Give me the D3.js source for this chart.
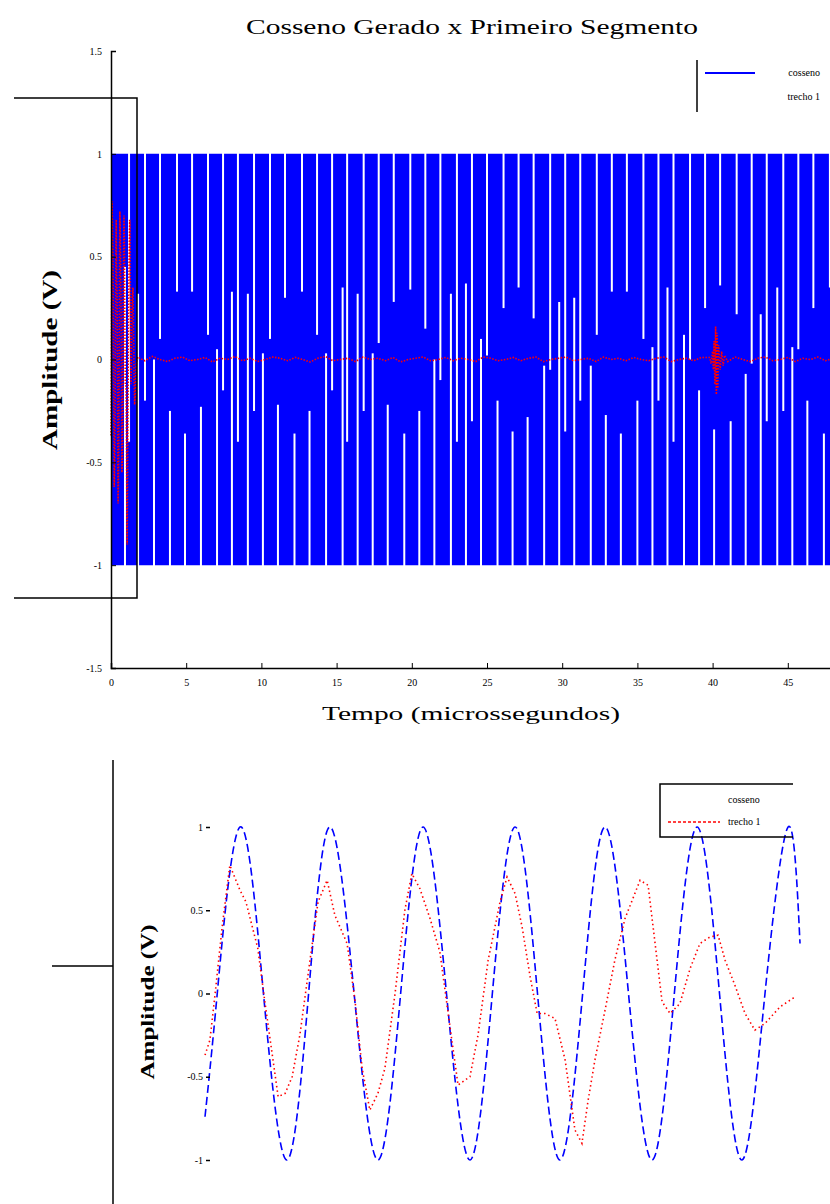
<!DOCTYPE html>
<html>
<head>
<meta charset="utf-8">
<script src="https://cdn.jsdelivr.net/npm/d3@7/dist/d3.min.js"></script>
<style>
  body { margin: 0; background: #fff; }
  svg { display: block; font-family: "Liberation Serif", "DejaVu Serif", serif; }
</style>
</head>
<body>
<svg id="fig" width="830" height="1204"></svg>
<script>
// ---- DATA ----
const titleText = "Cosseno Gerado x Primeiro Segmento";
const xLabel = "Tempo (microssegundos)";
const yLabel = "Amplitude (V)";
const legendLabels = ["cosseno", "trecho 1"];

const xTicksTop = [0, 5, 10, 15, 20, 25, 30, 35, 40, 45];
const yTicksTop = [-1.5, -1, -0.5, 0, 0.5, 1, 1.5];
const yTicksZoom = [-1, -0.5, 0, 0.5, 1];

// generated cosine, top plot: envelope of the dense trace (µs, V)
const cosEnvT = [0, 50];
const cosEnvHi = [1, 1];
const cosEnvLo = [-1, -1];

// white gaps left in the dense trace: from the top (µs, V where the gap stops)
const topGapT   = [1.2, 2.26, 3.26, 4.39, 5.39, 6.45, 7.45, 8.44, 9.51, 10.57, 11.57, 12.7, 13.7, 14.7,
                   15.7, 16.8, 17.8, 18.8, 19.9, 20.9, 21.9, 23.0, 24.0, 25.0, 26.1, 27.1, 28.1, 29.2,
                   30.2, 31.2, 32.3, 33.3, 34.3, 35.4, 36.4, 37.4, 38.5, 39.5, 40.5, 41.6, 42.6, 43.6,
                   44.7, 45.7, 46.7, 47.8];
const topGapEnd = [-0.4, -0.2, 0.1, 0.33, 0.33, 0.12, -0.15, -0.4, -0.25, 0.1, 0.3, 0.33, 0.12, -0.15,
                   -0.4, -0.25, 0.08, 0.28, 0.34, 0.15, -0.1, -0.4, -0.3, 0.02, 0.25, 0.35, 0.2, -0.05,
                   -0.35, -0.2, 0.12, 0.33, 0.33, 0.1, -0.2, -0.4, 0.0, 0.25, 0.36, 0.22, -0.02, -0.3,
                   -0.25, 0.05, 0.25, 0.35];
// ... and from the bottom
const botGapT   = [0.93, 1.8, 2.86, 3.92, 4.92, 5.98, 7.05, 8.04, 9.1, 10.1, 11.1, 12.2, 13.2, 14.3,
                   15.4, 16.4, 17.4, 18.4, 19.5, 20.5, 21.5, 22.6, 23.6, 24.6, 25.7, 26.7, 27.7, 28.8,
                   29.8, 30.8, 31.9, 32.9, 33.9, 35.0, 36.0, 37.0, 38.1, 39.1, 40.1, 41.2, 42.2, 43.2,
                   44.3, 45.3, 46.3, 47.4];
const botGapEnd = [0.45, 0.32, 0.0, -0.25, -0.36, -0.23, 0.05, 0.33, 0.32, 0.03, -0.22, -0.36, -0.25, 0.03,
                   0.35, 0.32, 0.03, -0.22, -0.36, -0.25, 0.0, 0.32, 0.37, 0.1, -0.2, -0.35, -0.28, -0.03,
                   0.28, 0.3, -0.03, -0.27, -0.36, -0.2, 0.06, 0.35, 0.12, -0.15, -0.34, -0.3, -0.07, 0.22,
                   0.35, 0.06, -0.2, -0.36];

// zoom plot: cosine key points (ns, V)
const cosZoomT = [0, 35, 100, 167, 234, 296, 357, 426, 494, 559, 623, 690, 757, 821, 886, 950,
                  1014, 1079, 1143, 1210, 1277, 1341, 1406, 1470, 1534, 1600, 1666, 1700];
const cosZoomV = [-0.74, 0, 1, 0, -1, 0, 1, 0, -1, 0, 1, 0, -1, 0, 1, 0,
                  -1, 0, 1, 0, -1, 0, 1, 0, -1, 0, 1, 0.3];

// segment 1 (trecho 1), first 1.7 µs (ns, V)
const trechoZoomT = [0, 14, 29, 49, 71, 100, 117, 151, 171, 191, 209, 229, 249, 271, 300, 323, 349, 371,
                     406, 429, 449, 471, 494, 514, 543, 571, 591, 614, 643, 671, 700, 723, 743, 757, 780,
                     809, 843, 863, 886, 906, 929, 949, 971, 1000, 1029, 1057, 1077, 1094, 1114, 1143,
                     1171, 1200, 1243, 1266, 1286, 1306, 1329, 1357, 1386, 1414, 1443, 1466, 1486, 1514,
                     1543, 1571, 1600, 1643, 1686];
const trechoZoomV = [-0.37, -0.28, 0.0, 0.4, 0.77, 0.62, 0.55, 0.27, -0.05, -0.35, -0.62, -0.6, -0.5, -0.25,
                     0.2, 0.55, 0.68, 0.47, 0.3, -0.05, -0.45, -0.7, -0.6, -0.45, 0.0, 0.5, 0.72, 0.63,
                     0.45, 0.25, -0.2, -0.55, -0.52, -0.5, -0.25, 0.2, 0.55, 0.7, 0.6, 0.4, 0.1, -0.12,
                     -0.12, -0.15, -0.4, -0.82, -0.9, -0.65, -0.4, -0.1, 0.2, 0.45, 0.68, 0.65, 0.3,
                     -0.05, -0.12, -0.06, 0.15, 0.3, 0.34, 0.35, 0.2, 0.05, -0.12, -0.22, -0.18, -0.08, -0.02];

// trecho 1 after the first burst, sampled every 0.5 µs from 1.75 µs (V)
const trechoTailStart = 1.75;
const trechoTailStep = 0.5;
const trechoTailV = [0.012, -0.006, 0.015, 0.0, -0.01, 0.006, 0.012, -0.006, 0.0, 0.01, -0.012, 0.006, 0.0, 0.015,
                     -0.006, 0.006, -0.01, 0.0, 0.012, 0.006, -0.006, 0.01, 0.0, -0.012, 0.006, 0.015, -0.006, 0.0,
                     0.006, -0.01, 0.012, 0.0, 0.006, -0.006, 0.01, -0.012, 0.0, 0.006, 0.012, -0.006, 0.0, 0.01,
                     -0.006, 0.006, 0.0, -0.01, 0.012, 0.006, -0.006, 0.0, 0.01, -0.006, 0.006, 0.012, -0.01, 0.0,
                     0.006, 0.012, -0.006, 0.0, 0.006, -0.01, 0.012, 0.0, 0.006, -0.006, 0.01, 0.0, -0.006, 0.006,
                     0.012, -0.01, 0.0, 0.006, -0.006, 0.01];
// the small burst near 40 µs and what follows (µs, V)
const trechoBurstT = [39.8, 39.9, 40.0, 40.05, 40.1, 40.15, 40.2, 40.25, 40.3, 40.35, 40.4, 40.5, 40.6, 40.7, 40.8, 41.0,
                      41.5, 42.0, 42.5, 43.0, 43.5, 44.0, 44.5, 45.0, 45.5, 46.0, 46.5, 47.0, 47.5, 48.0, 48.5, 49.0, 49.5];
const trechoBurstV = [0.01, -0.02, 0.04, -0.05, 0.09, -0.12, 0.16, -0.17, 0.13, -0.14, 0.07, -0.05, 0.04, -0.03, 0.02, -0.01,
                      0.012, 0.0, -0.01, 0.006, 0.012, -0.006, 0.0, 0.01, -0.01, 0.006, 0.0, 0.012, -0.006, 0.006, 0.01, -0.006, 0.0];

// ---- FIGURE ----
const svg = d3.select("#fig");
const blue = "#0000ff", red = "#ff0000";

// TOP PLOT scales
const x = d3.scaleLinear().domain([0, 50]).range([111, 863]);
const y = d3.scaleLinear().domain([-1.5, 1.5]).range([668, 51]);

svg.append("text")
  .attr("x", 472).attr("y", 34)
  .attr("text-anchor", "middle")
  .attr("font-size", 20)
  .attr("textLength", 452).attr("lengthAdjust", "spacingAndGlyphs")
  .text(titleText);

const gTop = svg.append("g");

// dense cosine drawn as its band, then the gaps
const env = cosEnvT.map((t, i) => ({ t, hi: cosEnvHi[i], lo: cosEnvLo[i] }));
gTop.append("path")
  .datum(env)
  .attr("fill", blue)
  .attr("d", d3.area().x(d => x(d.t)).y0(d => y(d.lo)).y1(d => y(d.hi)));

gTop.selectAll(".gapTop")
  .data(topGapT.map((t, i) => ({ t, v: topGapEnd[i] })))
  .join("line")
  .attr("class", "gapTop")
  .attr("x1", d => x(d.t)).attr("x2", d => x(d.t))
  .attr("y1", y(1) - 1).attr("y2", d => y(d.v))
  .attr("stroke", "#fff").attr("stroke-width", 2);

gTop.selectAll(".gapBot")
  .data(botGapT.map((t, i) => ({ t, v: botGapEnd[i] })))
  .join("line")
  .attr("class", "gapBot")
  .attr("x1", d => x(d.t)).attr("x2", d => x(d.t))
  .attr("y1", y(-1) + 1).attr("y2", d => y(d.v))
  .attr("stroke", "#fff").attr("stroke-width", 2);

// trecho 1, the whole record
const trechoAll = []
  .concat(trechoZoomT.map((t, i) => ({ t: t / 1000, v: trechoZoomV[i] })))
  .concat(trechoTailV.map((v, i) => ({ t: trechoTailStart + i * trechoTailStep, v })).filter(d => d.t < 39.8))
  .concat(trechoBurstT.map((t, i) => ({ t, v: trechoBurstV[i] })));

gTop.append("path")
  .datum(trechoAll)
  .attr("fill", "none")
  .attr("stroke", red).attr("stroke-width", 1.6)
  .attr("stroke-dasharray", "1.5,1.5")
  .attr("d", d3.line().x(d => x(d.t)).y(d => y(d.v)));

// axes (left and bottom only)
const xAxis = d3.axisBottom(x).tickValues(xTicksTop).tickSize(-5).tickFormat(d3.format("d"));
const gx = svg.append("g").attr("transform", `translate(0,${y(-1.5)})`).call(xAxis);
gx.select(".domain").attr("stroke-width", 1.5);
gx.selectAll("text").attr("font-size", 10).attr("dy", "1.5em").attr("font-family", "Liberation Serif");

const yAxis = d3.axisLeft(y).tickValues(yTicksTop).tickSize(-5).tickFormat(d => d);
const gy = svg.append("g").attr("transform", `translate(${x(0)},0)`).call(yAxis);
gy.select(".domain").attr("stroke-width", 1.5);
gy.selectAll("text").attr("font-size", 10).attr("x", -9).attr("font-family", "Liberation Serif");

svg.append("text")
  .attr("x", 471).attr("y", 720)
  .attr("text-anchor", "middle").attr("font-size", 19)
  .attr("textLength", 298).attr("lengthAdjust", "spacingAndGlyphs")
  .text(xLabel);

svg.append("text")
  .attr("transform", "translate(57,360) rotate(-90)")
  .attr("text-anchor", "middle").attr("font-size", 20).attr("font-weight", "bold")
  .attr("textLength", 180).attr("lengthAdjust", "spacingAndGlyphs")
  .text(yLabel);

// legend (top)
const lg = svg.append("g");
lg.append("line").attr("x1", 697).attr("x2", 697).attr("y1", 60).attr("y2", 112).attr("stroke", "#000").attr("stroke-width", 1.5);
lg.append("line").attr("x1", 705).attr("x2", 755).attr("y1", 73).attr("y2", 73).attr("stroke", blue).attr("stroke-width", 2);
lg.selectAll("text").data(legendLabels).join("text")
  .attr("x", 820).attr("y", (d, i) => 76 + i * 24)
  .attr("text-anchor", "end").attr("font-size", 10)
  .text(d => d);

// zoom rectangle on the first microseconds
const zr = svg.append("g").attr("fill", "none").attr("stroke", "#000").attr("stroke-width", 1.5);
zr.append("path").attr("d", "M14,98H137V598H14");

// BOTTOM PLOT
const xz = d3.scaleLinear().domain([0, 1700]).range([205, 800]);
const yz = d3.scaleLinear().domain([-1, 1]).range([1160, 827]);

svg.append("path").attr("d", "M113,760V1204M52,966H113").attr("stroke", "#000").attr("stroke-width", 1.5).attr("fill", "none");

const gz = svg.append("g");
gz.append("path")
  .datum(cosZoomT.map((t, i) => ({ t, v: cosZoomV[i] })))
  .attr("fill", "none").attr("stroke", blue).attr("stroke-width", 1.6)
  .attr("stroke-dasharray", "8,4")
  .attr("d", d3.line().curve(d3.curveNatural).x(d => xz(d.t)).y(d => yz(d.v)));

gz.append("path")
  .datum(trechoZoomT.map((t, i) => ({ t, v: trechoZoomV[i] })))
  .attr("fill", "none").attr("stroke", red).attr("stroke-width", 1.6)
  .attr("stroke-dasharray", "1.5,3")
  .attr("d", d3.line().x(d => xz(d.t)).y(d => yz(d.v)));

const yAxisZ = d3.axisLeft(yz).tickValues(yTicksZoom).tickSize(4).tickFormat(d => d);
const gyz = svg.append("g").attr("transform", "translate(210,0)").call(yAxisZ);
gyz.select(".domain").remove();
gyz.selectAll("line").attr("stroke-width", 1.5);
gyz.selectAll("text").attr("font-size", 10).attr("font-family", "Liberation Serif");

svg.append("text")
  .attr("transform", "translate(154,1002) rotate(-90)")
  .attr("text-anchor", "middle").attr("font-size", 18).attr("font-weight", "bold")
  .attr("textLength", 155).attr("lengthAdjust", "spacingAndGlyphs")
  .text(yLabel);

// legend (bottom)
const lb = svg.append("g");
lb.append("path").attr("d", "M793,784H660V837H793").attr("fill", "none").attr("stroke", "#000").attr("stroke-width", 1.5);
lb.append("line").attr("x1", 668).attr("x2", 720).attr("y1", 822).attr("y2", 822)
  .attr("stroke", red).attr("stroke-width", 1.6).attr("stroke-dasharray", "3,2");
lb.selectAll("text").data(legendLabels).join("text")
  .attr("x", 728).attr("y", (d, i) => 803 + i * 22)
  .attr("font-size", 10)
  .text(d => d);
</script>
</body>
</html>
